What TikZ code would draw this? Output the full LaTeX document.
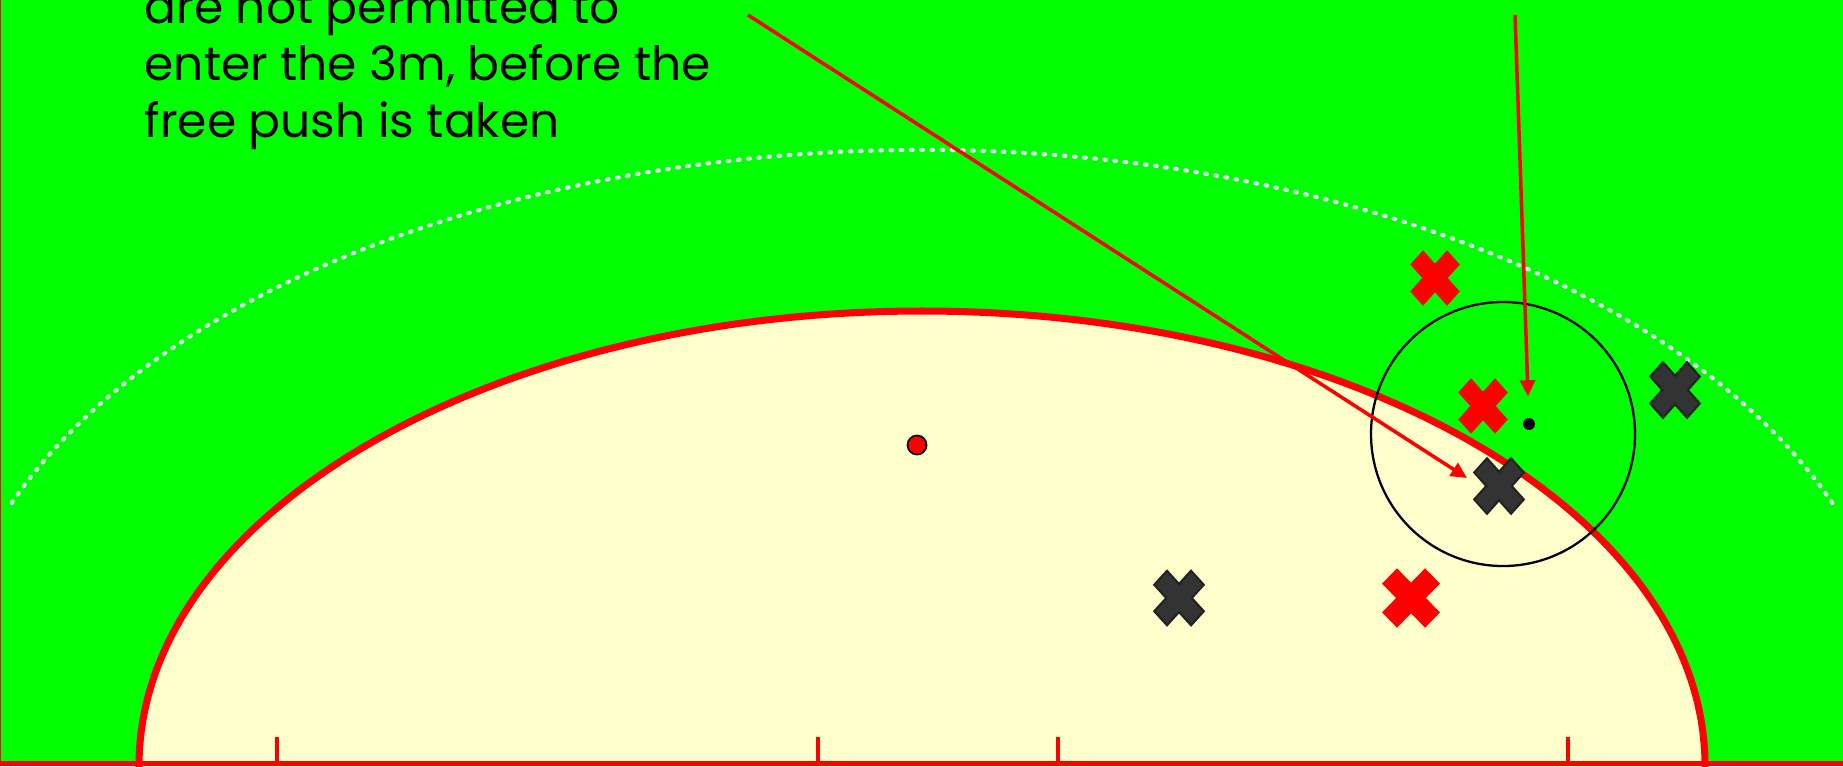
\documentclass[tikz,border=0pt]{standalone}
\usepackage{fontspec}
\setmainfont{Poppins}
\usetikzlibrary{arrows.meta}
\definecolor{pitch}{RGB}{0,255,0}
\definecolor{zone}{RGB}{255,255,204}
\definecolor{linered}{RGB}{255,0,0}
\definecolor{player}{RGB}{51,51,51}
\definecolor{playeredge}{RGB}{34,34,34}
\definecolor{dotline}{RGB}{222,232,240}
\tikzset{
  xmark/.pic={\path[pic actions,rotate=45] (-9,-26) -- (9,-26) -- (9,-9) -- (26,-9) -- (26,9) -- (9,9) -- (9,26) -- (-9,26) -- (-9,9) -- (-26,9) -- (-26,-9) -- (-9,-9) -- cycle;},
  redx/.style={fill=linered},
  darkx/.style={fill=player,draw=playeredge,line width=0.6pt},
  pointer/.style={draw=linered,line width=1pt,-{Triangle[length=1.6mm,width=1.5mm]}},
}
\begin{document}
\begin{tikzpicture}[x=0.01cm,y=-0.01cm]
        \useasboundingbox (0,0) rectangle (1843,766);
        \clip (0,0) rectangle (1843,766);
        % field
        \fill [pitch] (0,0) rectangle (1843,766);
        \draw [linered,line width=0.4pt] (0.5,0) -- (0.5,766);
        \draw [dotline,line width=1.2pt,line cap=round,dash pattern=on 0.5pt off 2.4pt] (922,700) ++(201:975 and 550) arc [start angle=201,end angle=339,x radius=975,y radius=550];
        \filldraw [fill=zone,draw=linered,line width=2pt] (922,766) ellipse [x radius=783,y radius=455];
        \draw [linered,line width=1.4pt] (0,763.5) -- (1843,763.5);
        \foreach \x in {277,818,1058,1568} \draw [linered,line width=1.2pt] (\x,737) -- (\x,766);
        \draw [black,line width=0.65pt] (1503,434) circle (132);
        % players
        \pic [redx,yscale=1.12] at (1435,278) {xmark};
        \pic [redx,yscale=1.12] at (1483,406) {xmark};
        \pic [redx,xscale=1.17,yscale=1.2] at (1411,598) {xmark};
        \pic [darkx,yscale=1.12] at (1499,486) {xmark};
        \pic [darkx,yscale=1.12] at (1675,390) {xmark};
        \pic [darkx,yscale=1.1] at (1179,598) {xmark};
        \node [circle,fill=linered,draw=black,line width=0.5pt,inner sep=0,minimum size=1.9mm] (spot) at (917,445) {};
        \node [circle,fill=black,inner sep=0,minimum size=1.2mm] (ball) at (1529,424) {};
        % text
        \node [anchor=base west,align=left,inner sep=0,font=\fontsize{13.4}{16.2}\selectfont] (rule) at (144,137) {are not permitted to\\enter the 3m, before the\\free push is taken};
        \coordinate (tailA) at (748,15);
        \coordinate (tipA) at (1467,478);
        \coordinate (tailB) at (1515,15);
        \draw [pointer] (tailA) -- (tipA);
        \draw [pointer,shorten >=6pt] (tailB) -- (ball);
    \end{tikzpicture}
\end{document}
